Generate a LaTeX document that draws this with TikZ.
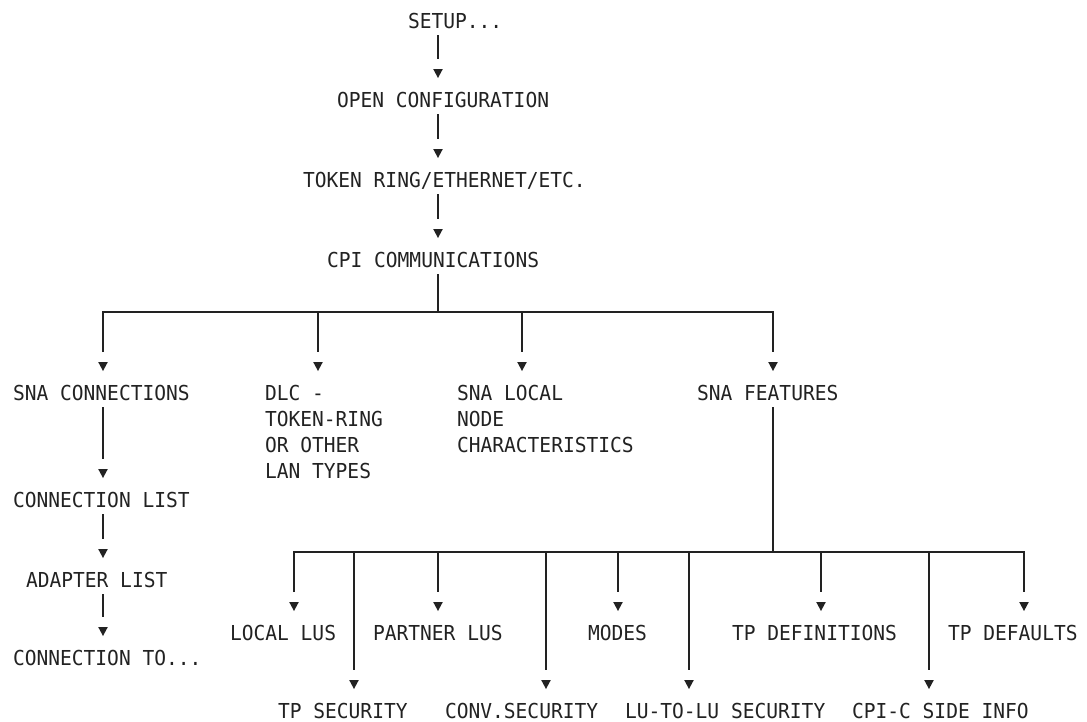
\documentclass[tikz,border=0pt]{standalone}
\usepackage{fontspec}
\newfontfamily\ibmmono[FakeStretch=0.95]{DejaVu Sans Mono}
\usetikzlibrary{calc}
\definecolor{ink}{HTML}{222222}
\tikzset{
  lbl/.style={anchor=base west, inner sep=0pt, outer sep=0pt,
    font=\ibmmono\fontsize{20.6pt}{26.3pt}\selectfont, text=ink},
  link/.style={draw=ink, line width=1.3pt},
}
% #1 name, #2 left x, #3 baseline y (first line), #4 connector x, #5 text
\newcommand\boxlbl[5]{%
  \node[lbl] (#1) at (#2,#3) {\begin{tabular}[t]{@{}l@{}}#5\end{tabular}};
  \coordinate (#1-in) at (#4,#3-48);
  \coordinate (#1-tip) at (#4,#3-29);
  \coordinate (#1-out) at (#4,#3+7);
}
\newcommand\tipmark[1]{\fill[ink] ($(#1)+(-4.8,-9)$) -- ($(#1)+(4.8,-9)$) -- (#1) -- cycle;}
\begin{document}
\begin{tikzpicture}[x=1pt,y=-1pt]
\useasboundingbox (0,0) rectangle (1087,721);
% top chain
\boxlbl{setup}{408}{28}{438}{SETUP...}
\boxlbl{open}{337}{107}{438}{OPEN CONFIGURATION}
\boxlbl{token}{303}{187}{438}{TOKEN RING/ETHERNET/ETC.}
\boxlbl{cpi}{327}{267}{438}{CPI COMMUNICATIONS}
% first level
\boxlbl{snacon}{13}{400}{103}{SNA CONNECTIONS}
\boxlbl{dlc}{265}{400}{318}{DLC -\\TOKEN-RING\\OR OTHER\\LAN TYPES}
\boxlbl{local}{457}{400}{522}{SNA LOCAL\\NODE\\CHARACTERISTICS}
\boxlbl{feat}{697}{400}{773}{SNA FEATURES}
% left column
\boxlbl{conlist}{13}{507}{103}{CONNECTION LIST}
\boxlbl{adapter}{26}{587}{103}{ADAPTER LIST}
\boxlbl{conto}{13}{665}{103}{CONNECTION TO...}
% SNA features children
\boxlbl{loclus}{230}{640}{294}{LOCAL LUS}
\boxlbl{tpsec}{278}{718}{354}{TP SECURITY}
\boxlbl{partner}{373}{640}{438}{PARTNER LUS}
\boxlbl{conv}{445}{718}{546}{CONV.SECURITY}
\boxlbl{modes}{588}{640}{618}{MODES}
\boxlbl{lulu}{625}{718}{689}{LU-TO-LU SECURITY}
\boxlbl{tpdef}{732}{640}{821}{TP DEFINITIONS}
\boxlbl{cpic}{852}{718}{929}{CPI-C SIDE INFO}
\boxlbl{tpdflt}{948}{640}{1024}{TP DEFAULTS}
% bars
\coordinate (bar1) at (438,312);
\coordinate (bar2) at (773,552);
% top chain connectors
\draw[link] (setup-out) -- (open-in); \tipmark{open-tip}
\draw[link] (open-out) -- (token-in); \tipmark{token-tip}
\draw[link] (token-out) -- (cpi-in); \tipmark{cpi-tip}
% CPI to level 1
\draw[link] (cpi-out) -- (bar1);
\draw[link] (snacon-in) -- (snacon-in |- bar1) -- (feat-in |- bar1) -- (feat-in);
\draw[link] (dlc-in |- bar1) -- (dlc-in);
\draw[link] (local-in |- bar1) -- (local-in);
\foreach \n in {snacon,dlc,local,feat}{\tipmark{\n-tip}}
% left column
\draw[link] (snacon-out) -- (conlist-in); \tipmark{conlist-tip}
\draw[link] (conlist-out) -- (adapter-in); \tipmark{adapter-tip}
\draw[link] (adapter-out) -- (conto-in); \tipmark{conto-tip}
% SNA features
\draw[link] (feat-out) -- (bar2);
\draw[link] (loclus-in) -- (loclus-in |- bar2) -- (tpdflt-in |- bar2) -- (tpdflt-in);
\foreach \n in {tpsec,partner,conv,modes,lulu,tpdef,cpic}{
  \draw[link] (\n-in |- bar2) -- (\n-in);
}
\foreach \n in {loclus,tpsec,partner,conv,modes,lulu,tpdef,cpic,tpdflt}{\tipmark{\n-tip}}
\end{tikzpicture}
\end{document}
